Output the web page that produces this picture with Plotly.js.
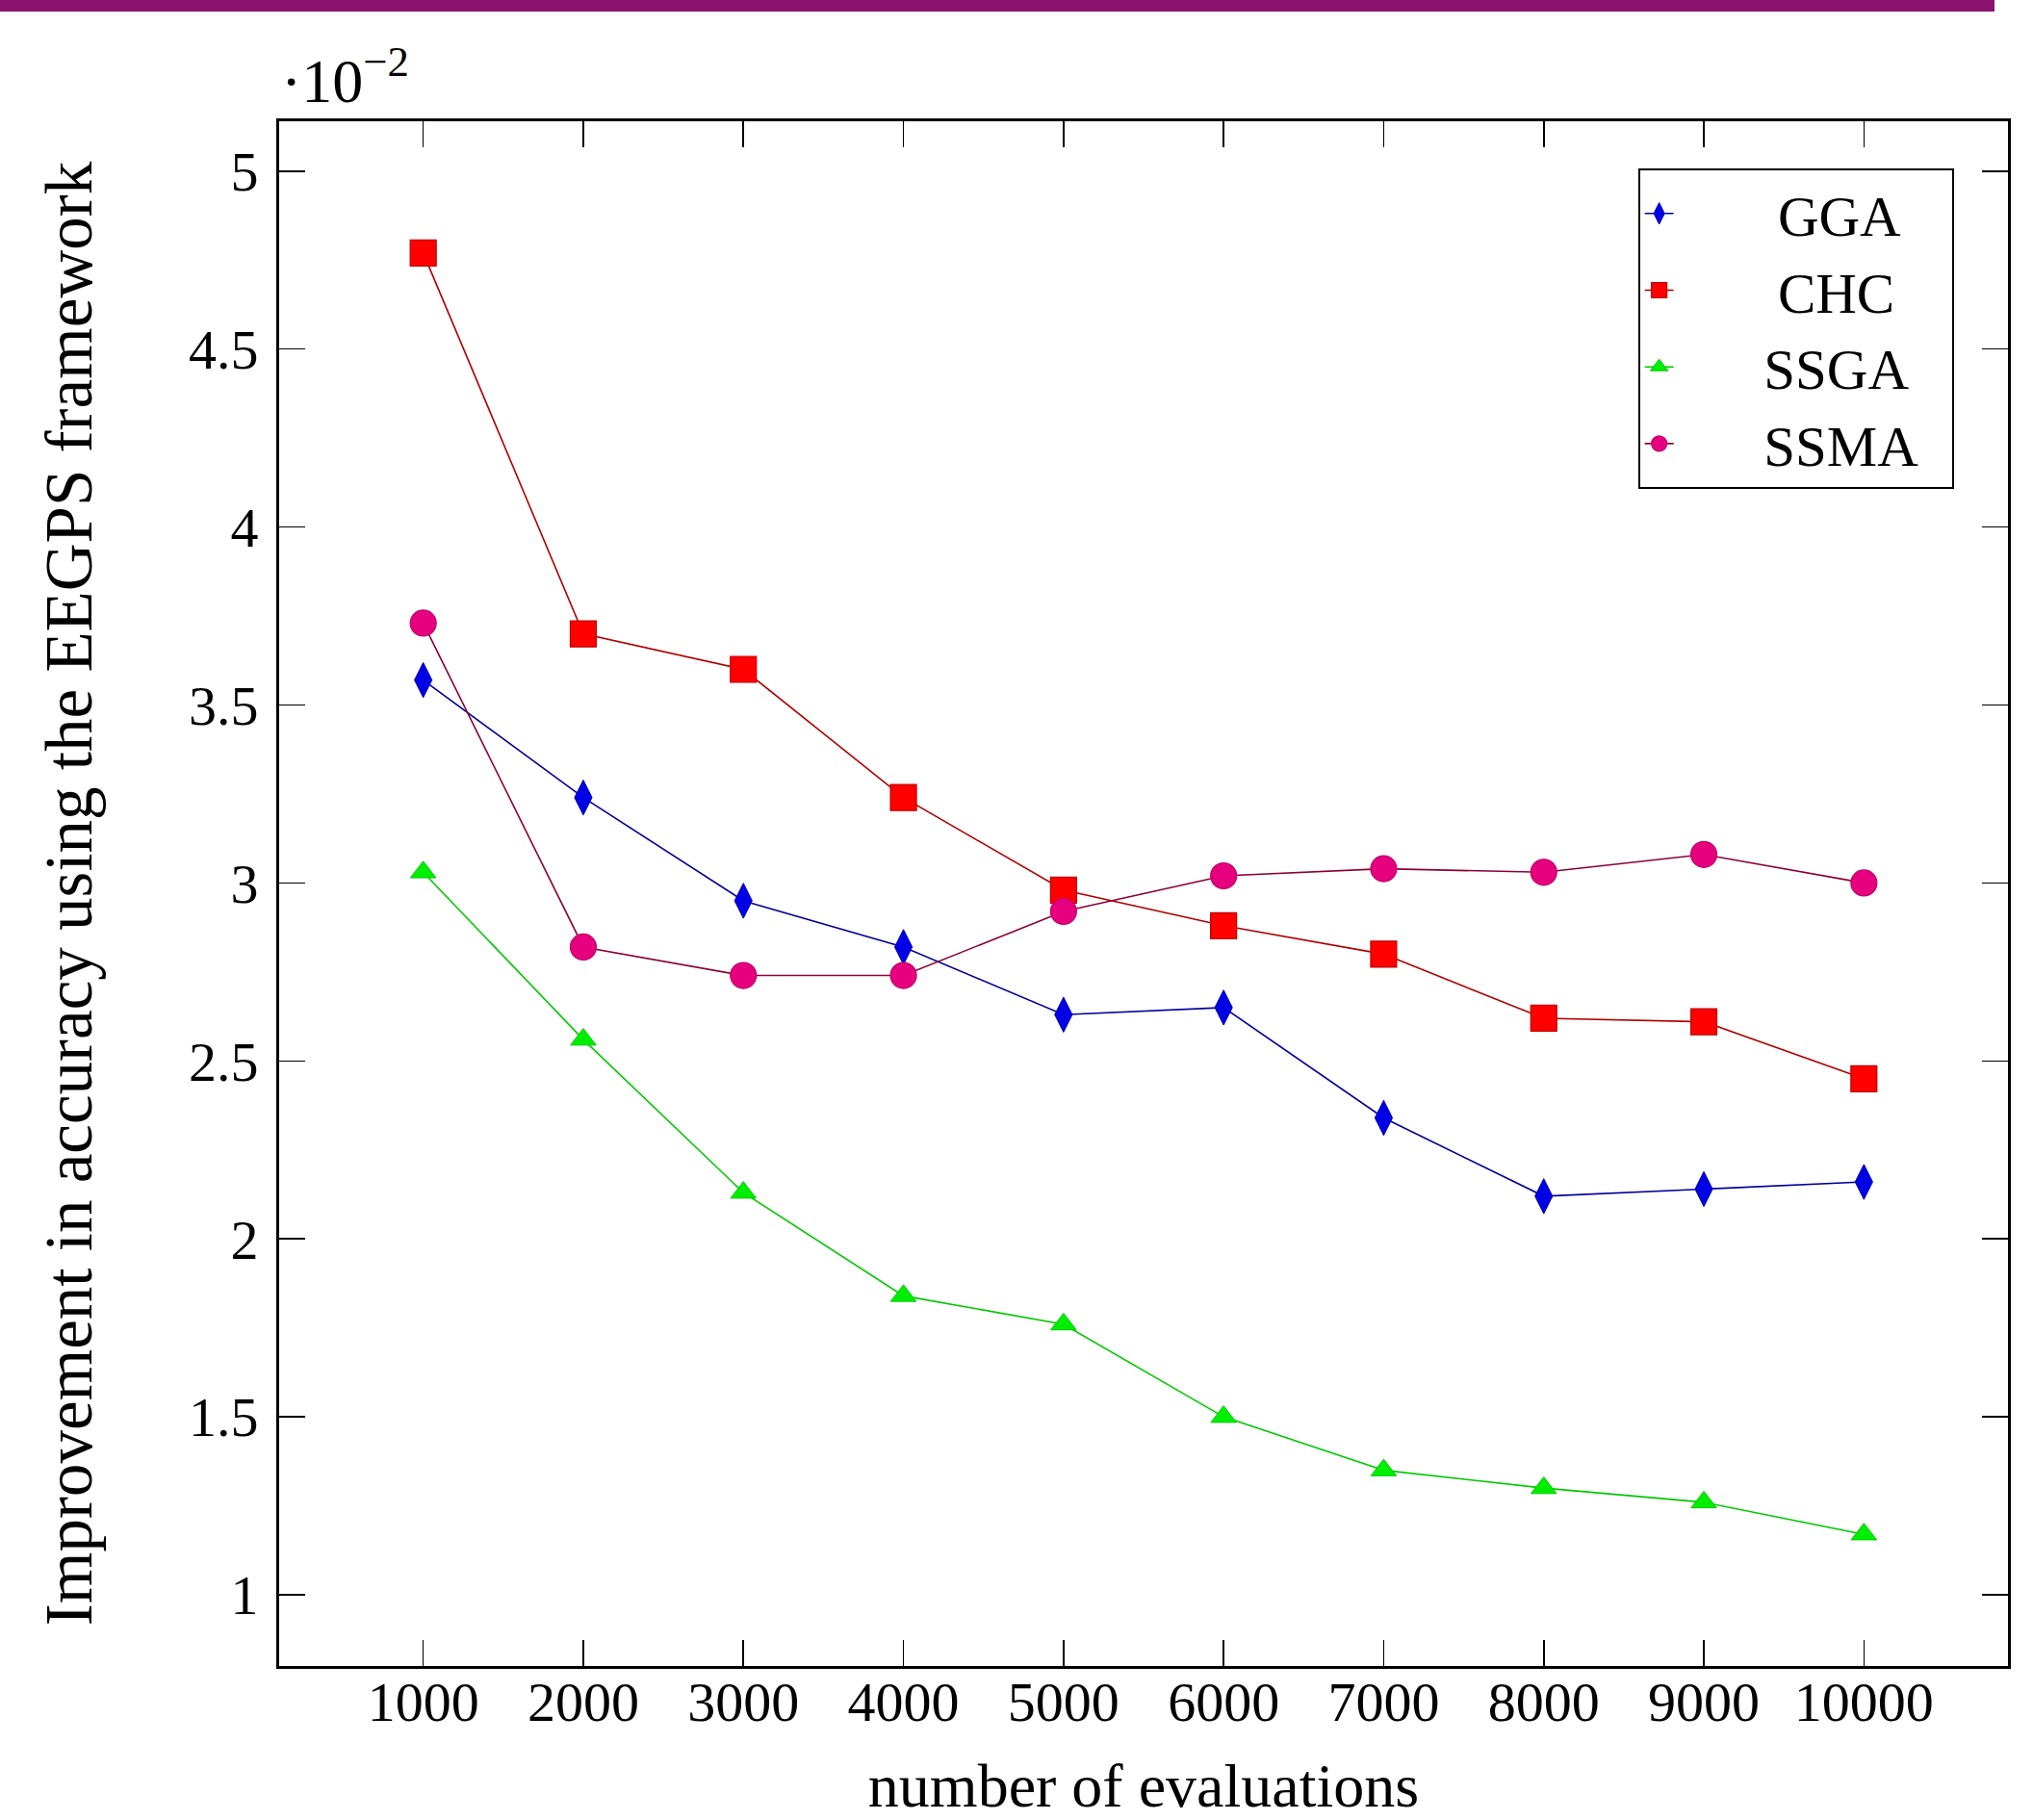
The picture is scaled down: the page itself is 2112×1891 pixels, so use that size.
<!DOCTYPE html>
<html>
<head>
<meta charset="utf-8">
<script src="https://cdn.plot.ly/plotly-3.0.1.min.js"></script>
<style>
  html, body { margin: 0; padding: 0; background: #ffffff; }
  #wrap { position: relative; width: 2112px; height: 1891px; overflow: hidden; }
  #bar { position: absolute; left: 0; top: 0; width: 2072px; height: 12px; background: #8c1270; z-index: 5; }
  #chart { position: absolute; left: 0; top: 0; width: 2112px; height: 1891px; }
</style>
</head>
<body>
<div id="wrap">
  <div id="chart"></div>
  <div id="bar"></div>
</div>
<script>
// ---- data ----
const evaluations = [1000, 2000, 3000, 4000, 5000, 6000, 7000, 8000, 9000, 10000];
const ggaValues  = [3.57, 3.24, 2.95, 2.82, 2.63, 2.65, 2.34, 2.12, 2.14, 2.16];
const chcValues  = [4.77, 3.70, 3.60, 3.24, 2.98, 2.88, 2.80, 2.62, 2.61, 2.45];
const ssgaValues = [3.03, 2.56, 2.13, 1.84, 1.76, 1.50, 1.35, 1.30, 1.26, 1.17];
const ssmaValues = [3.73, 2.82, 2.74, 2.74, 2.92, 3.02, 3.04, 3.03, 3.08, 3.00];
const seriesNames = ["GGA", "CHC", "SSGA", "SSMA"];
const yTickValues = [1, 1.5, 2, 2.5, 3, 3.5, 4, 4.5, 5];
const yTickLabels = ["1", "1.5", "2", "2.5", "3", "3.5", "4", "4.5", "5"];
const xTickLabels = ["1000", "2000", "3000", "4000", "5000", "6000", "7000", "8000", "9000", "10000"];
const xTitle = "number of evaluations";
const yTitle = "Improvement in accuracy using the EEGPS framework";
const scaleLabel = "·10<sup>−2</sup>";

const FONT = "Liberation Serif, Times New Roman, serif";
const NB = "\u00a0";
// legend text is centred in the reference box: pad names with non-breaking spaces
const legendPad = [7, 7, 6, 6];
const legendName = (i) => NB.repeat(legendPad[i]) + seriesNames[i] + NB + NB;

const traces = [
  {
    x: evaluations, y: ggaValues, name: legendName(0), type: "scatter", mode: "lines+markers",
    line: { color: "#000099", width: 1.6 },
    marker: { symbol: "diamond-tall", size: 26, color: "#0000e6", line: { color: "#0000b0", width: 1 } }
  },
  {
    x: evaluations, y: chcValues, name: legendName(1), type: "scatter", mode: "lines+markers",
    line: { color: "#b00000", width: 1.6 },
    marker: { symbol: "square", size: 27, color: "#ff0000", line: { color: "#c00000", width: 1.2 } }
  },
  {
    x: evaluations, y: ssgaValues, name: legendName(2), type: "scatter", mode: "lines+markers",
    line: { color: "#00c800", width: 1.6 },
    marker: { symbol: "triangle-up", size: 23, color: "#00ee00", line: { color: "#00cc00", width: 1 } }
  },
  {
    x: evaluations, y: ssmaValues, name: legendName(3), type: "scatter", mode: "lines+markers",
    line: { color: "#8b0035", width: 1.6 },
    marker: { symbol: "circle", size: 27, color: "#e6007e", line: { color: "#c0006a", width: 1.2 } }
  }
];

const layout = {
  width: 2112, height: 1891,
  paper_bgcolor: "#ffffff", plot_bgcolor: "#ffffff",
  margin: { l: 290, r: 26, t: 126, b: 160, pad: 0 },
  font: { family: FONT, size: 58, color: "#000000" },
  showlegend: true,
  legend: {
    x: 0.786, y: 0.9695, xanchor: "left", yanchor: "top",
    bgcolor: "#ffffff", bordercolor: "#000000", borderwidth: 2,
    font: { family: FONT, size: 59, color: "#000000" },
    tracegroupgap: 0, itemwidth: 30
  },
  xaxis: {
    range: [100, 10900],
    tickmode: "array", tickvals: evaluations, ticktext: xTickLabels,
    ticks: "inside", ticklen: 27, tickwidth: 1.6, tickcolor: "#000000",
    showline: true, linecolor: "#000000", linewidth: 3, mirror: "ticks",
    showgrid: false, zeroline: false,
    tickfont: { family: FONT, size: 58 },
    ticklabelstandoff: -16,
    title: { text: xTitle, font: { family: FONT, size: 64 }, standoff: 80 }
  },
  yaxis: {
    range: [0.8, 5.14],
    tickmode: "array", tickvals: yTickValues, ticktext: yTickLabels,
    ticks: "inside", ticklen: 27, tickwidth: 1.6, tickcolor: "#000000",
    showline: true, linecolor: "#000000", linewidth: 3, mirror: "ticks",
    showgrid: false, zeroline: false,
    tickfont: { family: FONT, size: 58 },
    ticklabelstandoff: 7,
    title: { text: yTitle, font: { family: FONT, size: 69 }, standoff: 78 }
  },
  annotations: [
    {
      text: scaleLabel, xref: "paper", yref: "paper", x: 0.0, y: 1.029,
      xanchor: "left", yanchor: "middle", showarrow: false,
      font: { family: FONT, size: 64, color: "#000000" }
    }
  ]
};

Plotly.newPlot("chart", traces, layout, { displayModeBar: false, staticPlot: true });
</script>
</body>
</html>
